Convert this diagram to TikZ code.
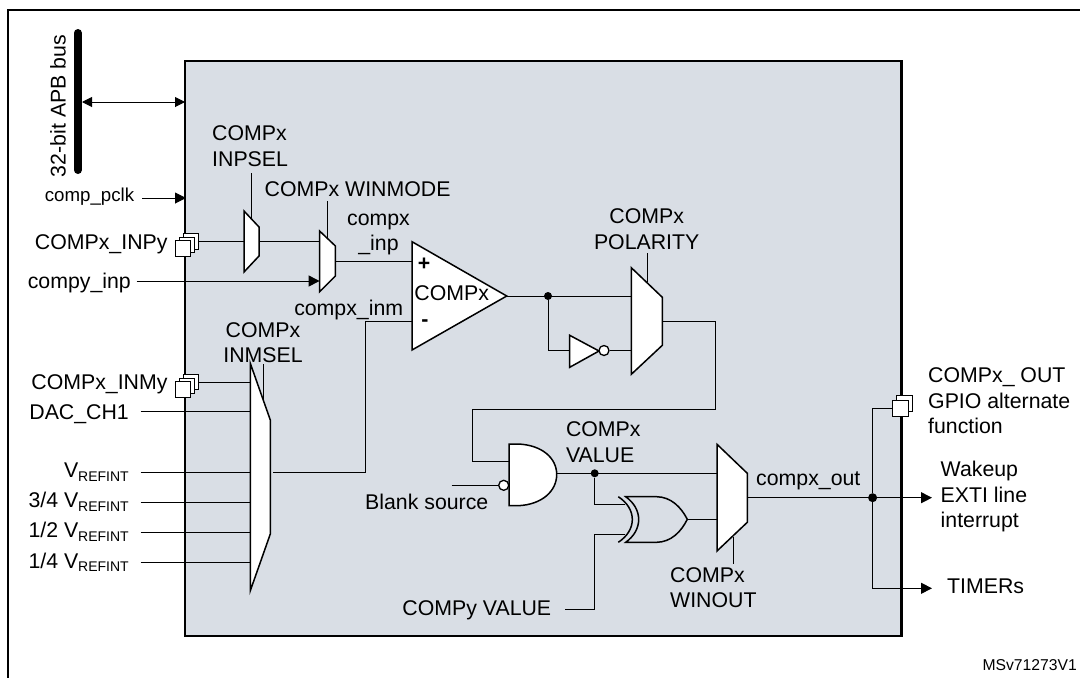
\documentclass[tikz,border=0pt]{standalone}
\usepackage{fontspec}
\setmainfont{Liberation Sans}
\usetikzlibrary{arrows.meta}
\definecolor{boxgray}{HTML}{D9DEE5}
\newcommand{\vrefint}{V\raisebox{-3.5pt}{\fontsize{14}{14}\selectfont REFINT}}
\tikzset{
  lab/.style={inner sep=0pt,font=\fontsize{21.3}{25.5}\selectfont,text height=15.3pt,text depth=0pt},
  mlab/.style={inner sep=0pt,font=\fontsize{21.3}{25.5}\selectfont,align=left},
  wire/.style={line width=1pt},
  awire/.style={wire,-{Triangle[length=11pt,width=11pt]}},
  gate/.style={draw,fill=white,line width=1.5pt,line join=miter},
  bubble/.style={circle,draw,fill=white,line width=1.3pt,inner sep=0pt,minimum size=10pt},
  jdot/.style={circle,fill=black,inner sep=0pt,minimum size=8pt},
  padbox/.style={rectangle,draw,fill=white,line width=1pt,inner sep=0pt,minimum size=15.5pt}
}
\begin{document}
\begin{tikzpicture}[x=1pt,y=-1pt]
\useasboundingbox (0,0) rectangle (1080,678);
\draw[line width=2pt] (7.6,678) -- (7.6,9.7) -- (1080,9.7);		%frame
\filldraw[fill=boxgray,line width=2.3pt] (185.3,61) rectangle (901.6,636);
\draw[line width=8pt,line cap=round] (77.8,33) -- (77.8,170);		%bus
\node[lab,rotate=90] (buslab) at (58,106) {32-bit APB bus};
\coordinate (busport) at (82,102);
\coordinate (boxport) at (185,102);
\draw[wire,{Triangle[length=10pt,width=10pt]}-{Triangle[length=10pt,width=10pt]}] (busport) -- (boxport);
\node[inner sep=0pt,font=\fontsize{18.7}{20}\selectfont] (pclklab) at (89.5,197) {comp\_pclk};
\coordinate (pclka) at (142,198);
\coordinate (pclkb) at (186,198);
\draw[awire] (pclka) -- (pclkb);
% muxes
\draw[gate] (244,211) -- (259,227) -- (259,256) -- (244,272) -- cycle;		%INPSEL
\draw[gate] (319.6,231) -- (335.4,246) -- (335.4,276) -- (319.6,291.7) -- cycle;		%WINMODE
\draw[gate] (250.3,363.3) -- (270.3,420) -- (270.3,534) -- (250.3,590.7) -- cycle;		%INMSEL
\draw[gate] (631.3,267.7) -- (662.3,297.3) -- (662.3,345.3) -- (631.3,374.3) -- cycle;		%POLARITY
\draw[gate] (717,444.3) -- (747.3,473.3) -- (747.3,522.3) -- (717,551) -- cycle;		%WINOUT
% mux ports
\coordinate (inpsel) at (251.4,173);
\coordinate (inpseltop) at (251.4,219);
\coordinate (inpselin) at (244,241.3);
\coordinate (inpselout) at (259,241.3);
\coordinate (winmode) at (327.5,201);
\coordinate (winmodetop) at (327.5,238);
\coordinate (winmodein) at (319.6,241.3);
\coordinate (winmodeiny) at (319.6,281);
\coordinate (winmodeout) at (335.4,261);
\coordinate (inmsel) at (263.4,364);
\coordinate (inmseltop) at (263.4,399);
\coordinate (inmselin) at (250.3,382.1);
\coordinate (inmselout) at (273,472.3);
\coordinate (polsel) at (647,253.3);
\coordinate (polseltop) at (647,282);
\coordinate (polin) at (631.3,296);
\coordinate (polinb) at (631.3,350.5);
\coordinate (polout) at (662.3,321.3);
\coordinate (winoutsel) at (733.5,537);
\coordinate (winoutbot) at (733.5,564);
\coordinate (winoutin) at (717,473.3);
\coordinate (winoutinb) at (717,519);
\coordinate (winoutout) at (747.3,497.7);
\draw[wire] (inpsel) -- (inpseltop);
\draw[wire] (winmode) -- (winmodetop);
\draw[wire] (inmsel) -- (inmseltop);
\draw[wire] (polsel) -- (polseltop);
\draw[wire] (winoutsel) -- (winoutbot);
% input pads
\foreach \i in {2,1,0}{
  \node[padbox] (inpy\i) at (183+4*\i,248.7-3.7*\i) {};
  \node[padbox] (inmy\i) at (183+4*\i,389.5-3.7*\i) {};
}
\node[lab,anchor=east] (inpylab) at (167.7,241.5) {COMPx\_INPy};
\node[lab,anchor=east] (inmylab) at (167.7,382) {COMPx\_INMy};
\draw[wire] (inpy2.east) -- (inpselin);
\draw[wire] (inmy2.east) -- (inmselin);
\draw[wire] (inpselout) -- (winmodein);
\node[lab,anchor=east] (inplab) at (131,281) {compy\_inp};
\coordinate (inpa) at (136.7,281);
\draw[awire] (inpa) -- (winmodeiny);
% inm inputs
\node[lab,anchor=east] (daclab) at (129,411.7) {DAC\_CH1};
\coordinate (daca) at (140.5,411.7);
\coordinate (dacb) at (250.3,411.7);
\draw[wire] (daca) -- (dacb);
\foreach \nm/\ypos/\txt in {vref/472.3/{},vrefc/502.3/{3/4 },vrefb/532.3/{1/2 },vrefa/562.7/{1/4 }}{
  \node[lab,anchor=base east,text height=,text depth=] (\nm lab) at (129,\ypos+5.4) {\txt\vrefint};
  \coordinate (\nm a) at (140.5,\ypos);
  \coordinate (\nm b) at (250.3,\ypos);
  \draw[wire] (\nm a) -- (\nm b);
}
% comparator
\node[mlab,align=center] (inplab2) at (378.5,234.5) {compx\\\_inp};
\node[lab] (inmlab) at (348.7,308) {compx\_inm};
\filldraw[gate] (412,241.7) -- (506.7,296) -- (412,350) -- cycle;		%COMPx
\coordinate (compp) at (412,261);
\coordinate (compm) at (412,321.7);
\coordinate (compo) at (506.7,296);
\node[inner sep=0pt,font=\fontsize{21.3}{25.5}\bfseries] (plus) at (424,264) {+};
\node[inner sep=0pt,font=\fontsize{21.3}{25.5}\bfseries] (minus) at (425,323) {-};
\node[lab] (complab) at (451.7,293) {COMPx};
\draw[wire] (winmodeout) -- (compp);
\draw[wire] (compm) -| (365,472.3) -- (inmselout);
% polarity branch
\node[jdot] (cmpdot) at (548,296) {};
\draw[wire] (compo) -- (polin);
\draw[gate] (569.7,335.3) -- (599,351) -- (569.7,367.3) -- cycle;		%inverter
\node[bubble] (invbub) at (604,350.5) {};
\coordinate (invin) at (569.7,350.5);
\draw[wire] (cmpdot) |- (invin);
\draw[wire] (invbub) -- (polinb);
% AND gate
\draw[gate] (509,444) -- (518,444) .. controls (542,445) and (556.7,458) .. (556.7,474.5) .. controls (556.7,491) and (542,504.7) .. (518,505.7) -- (509,505.7) -- cycle;
\node[bubble] (andbub) at (503.7,485.3) {};
\coordinate (blanka) at (451.7,485.3);
\draw[wire] (blanka) -- (andbub);
\coordinate (andina) at (509,461);
\coordinate (andout) at (556.7,473.3);
\draw[wire] (polout) -| (715,409) -| (472,461) -- (andina);
\node[jdot] (valdot) at (594.7,473.3) {};
\draw[wire] (andout) -- (winoutin);
% XOR gate
\coordinate (xorina) at (625,504);
\coordinate (xorinb) at (625,534);
\coordinate (xorout) at (687.3,519);
\draw[wire] (valdot) |- (xorina);
\coordinate (compya) at (565.3,609);
\draw[wire] (compya) -| (594.7,534) -- (xorinb);
\draw[wire] (xorout) -- (winoutinb);
\draw[gate,fill=boxgray] (625.7,496.7) -- (656.7,496.7) .. controls (671,497) and (681,507) .. (687.3,519.3) .. controls (681,532) and (671,542) .. (656.7,542.3) -- (625.7,542.3) .. controls (643,530) and (643,509) .. (625.7,496.7) -- cycle;
\draw[line width=1.5pt] (618.3,496.7) .. controls (637,509) and (637,530) .. (618.3,542.3);
% output side
\node[jdot,minimum size=9pt] (outdot) at (872.6,497.7) {};
\coordinate (wakeup) at (932,497.7);
\coordinate (timers) at (932,588.3);
\draw[awire] (winoutout) -- (wakeup);
\node[padbox] (outpad1) at (904.6,403.5) {};
\node[padbox] (outpad0) at (900.6,408.5) {};
\draw[wire] (outpad0.west) -| (outdot);
\draw[awire] (outdot) |- (timers);
% labels
\node[mlab,anchor=west] (inpsellab) at (212,146) {COMPx\\INPSEL};
\node[lab,anchor=west] (winmodelab) at (264.5,189) {COMPx WINMODE};
\node[mlab,align=center] (inmsellab) at (263,342.5) {COMPx\\INMSEL};
\node[mlab,align=center] (pollab) at (646.7,229) {COMPx\\POLARITY};
\node[mlab,anchor=west] (vallab) at (565.8,442) {COMPx\\VALUE};
\node[mlab,anchor=west] (winoutlab) at (670,587.5) {COMPx\\WINOUT};
\node[lab,anchor=west] (blanklab) at (365,502) {Blank source};
\node[lab,anchor=east] (compylab) at (551.4,607.7) {COMPy VALUE};
\node[lab,anchor=west] (outlab) at (756,477.5) {compx\_out};
\node[mlab,anchor=west] (gpiolab) at (928,401) {COMPx\_ OUT\\GPIO alternate\\function};
\node[mlab,anchor=west] (wakelab) at (940.5,496.7) {Wakeup\\EXTI line\\interrupt};
\node[lab,anchor=west] (timlab) at (947,585.7) {TIMERs};
\node[inner sep=0pt,anchor=east,font=\fontsize{15.7}{18}\selectfont] (idlab) at (1077,665) {MSv71273V1};
\end{tikzpicture}
\end{document}
